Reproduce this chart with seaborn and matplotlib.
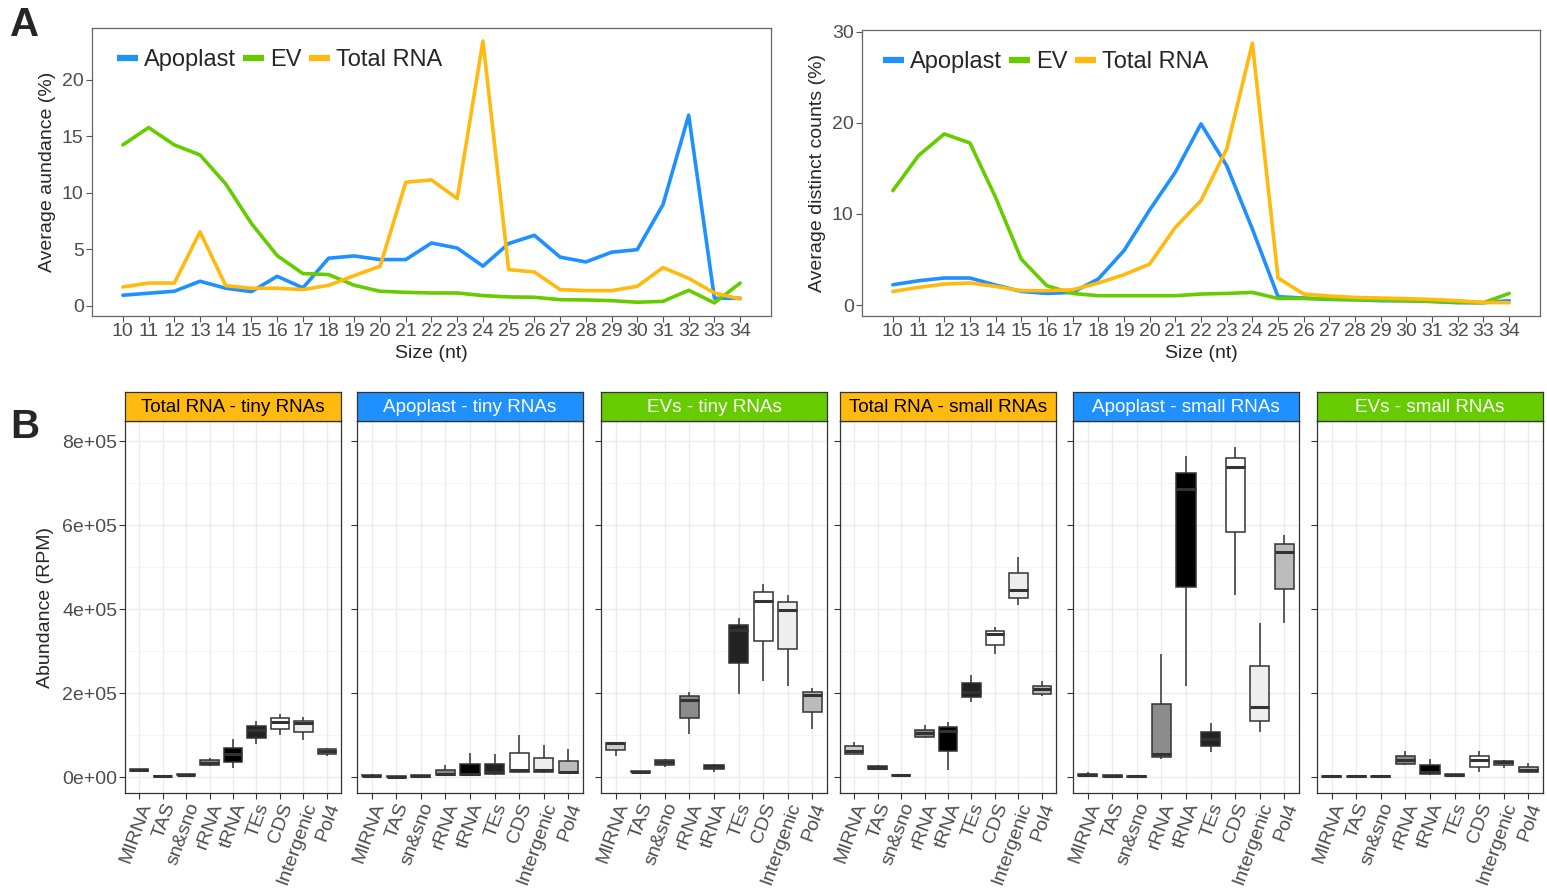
import numpy as np
import pandas as pd
import matplotlib
matplotlib.use('Agg')
import matplotlib.pyplot as plt
import seaborn as sns
from matplotlib.lines import Line2D
from matplotlib.ticker import FixedLocator

######### DATA #########

sizes = list(range(10, 35))

# panel A left - average abundance (%)
abund_apoplast = [0.92, 1.1, 1.27, 2.16, 1.54, 1.24, 2.6, 1.57, 4.2, 4.4, 4.08, 4.08, 5.55,
                  5.1, 3.5, 5.5, 6.23, 4.3, 3.87, 4.73, 4.96, 8.95, 16.87, 0.65, 0.65]
abund_ev = [14.24, 15.78, 14.24, 13.35, 10.78, 7.27, 4.43, 2.84, 2.75, 1.8, 1.27, 1.18, 1.12,
            1.12, 0.89, 0.77, 0.74, 0.53, 0.5, 0.44, 0.3, 0.38, 1.36, 0.24, 2.0]
abund_total = [1.65, 2.0, 2.0, 6.53, 1.77, 1.54, 1.54, 1.42, 1.8, 2.66, 3.49, 10.93, 11.14,
               9.48, 23.45, 3.19, 2.98, 1.42, 1.33, 1.33, 1.71, 3.37, 2.42, 1.12, 0.59]

# panel A right - average distinct counts (%)
dist_apoplast = [2.23, 2.67, 2.97, 2.97, 2.2, 1.5, 1.28, 1.39, 2.86, 5.97, 10.44, 14.58, 19.89,
                 15.31, 8.35, 0.92, 0.77, 0.62, 0.59, 0.48, 0.48, 0.4, 0.26, 0.26, 0.48]
dist_ev = [12.56, 16.41, 18.79, 17.8, 11.83, 5.05, 2.12, 1.28, 1.03, 1.03, 1.03, 1.03, 1.21,
           1.28, 1.39, 0.73, 0.73, 0.66, 0.59, 0.55, 0.48, 0.4, 0.33, 0.26, 1.28]
dist_total = [1.5, 1.94, 2.31, 2.42, 2.05, 1.58, 1.58, 1.68, 2.42, 3.33, 4.5, 8.53, 11.47,
              17.14, 28.75, 2.97, 1.21, 0.99, 0.84, 0.77, 0.7, 0.62, 0.48, 0.29, 0.26]

samples = ['Apoplast', 'EV', 'Total RNA']
sample_colors = ['#1E90FF', '#66CC00', '#FFB90F']

# panel B - box stats in thousands of RPM: [low whisker, q1, median, q3, high whisker]
classes = ['MIRNA', 'TAS', 'sn&sno', 'rRNA', 'tRNA', 'TEs', 'CDS', 'Intergenic', 'Pol4']
class_fill = ['#cccccc', '#333333', '#777777', '#8c8c8c', '#000000', '#222222', '#ffffff', '#eeeeee', '#bbbbbb']

total_tiny = [[14, 15.5, 17, 18, 20], [1, 1.5, 2.5, 3.5, 4], [3.5, 4, 5.5, 6.5, 7],
              [26, 29, 34, 40, 45], [21, 36, 54, 70, 91], [79, 92, 111, 121, 134],
              [99, 115, 132, 140, 150], [89, 107, 128, 134, 142], [51, 55, 63, 67, 70]]
apoplast_tiny = [[1, 1.5, 2.5, 4, 8], [0, 0.5, 1, 1.5, 2], [0, 0.5, 2, 4, 4.5],
                 [3, 4, 8, 16, 28], [4, 5.5, 8, 32, 58], [6, 8, 13, 32, 54],
                 [12, 13, 17, 58, 101], [10, 11, 16, 45, 77], [8, 9, 11, 38, 67]]
evs_tiny = [[51, 65, 80, 81, 81], [10, 11, 13, 14, 15], [25, 29, 37, 41, 43],
            [103, 141, 183, 194, 203], [13, 20, 24, 29, 32], [198, 271, 350, 362, 378],
            [229, 324, 420, 440, 460], [217, 305, 398, 416, 434], [115, 155, 196, 202, 212]]
total_small = [[54, 54, 61, 73, 83], [18, 19, 22, 26, 28], [2, 2.5, 4, 5, 6],
               [93, 96, 105, 112, 124], [17, 61, 109, 120, 130], [179, 190, 203, 223, 242],
               [292, 314, 340, 347, 357], [410, 426, 446, 486, 525], [193, 198, 209, 217, 229]]
apoplast_small = [[2, 3, 5, 7, 12], [0, 0.5, 2, 5, 5.5], [0.5, 0.8, 1.5, 2.2, 2.5],
                  [43, 47, 55, 174, 292], [217, 452, 687, 725, 765], [59, 73, 91, 108, 128],
                  [434, 584, 738, 760, 786], [107, 134, 166, 265, 367], [367, 449, 535, 554, 577]]
evs_small = [[0.5, 0.8, 1.5, 2.2, 2.5], [0.5, 0.8, 1.5, 2.2, 2.5], [0.5, 0.8, 1.5, 2.2, 2.5],
             [28, 32, 41, 51, 61], [4, 7, 13, 28, 43], [1.5, 2, 5, 7, 8],
             [13, 25, 41, 49, 61], [21, 28, 36, 39, 40], [9, 12, 17, 25, 34]]

facet_titles = ['Total RNA - tiny RNAs', 'Apoplast - tiny RNAs', 'EVs - tiny RNAs',
                'Total RNA - small RNAs', 'Apoplast - small RNAs', 'EVs - small RNAs']
facet_stats = [total_tiny, apoplast_tiny, evs_tiny, total_small, apoplast_small, evs_small]
strip_colors = ['#FFB90F', '#1E90FF', '#66CC00', '#FFB90F', '#1E90FF', '#66CC00']
strip_text = ['black', 'white', 'white', 'black', 'white', 'white']

######### STYLE #########

sns.set_theme(style='white')
plt.rcParams['font.family'] = ['Liberation Sans', 'DejaVu Sans']

W, H = 1547, 888
TICK_COL = '#4D4D4D'


def px_axes(fig, left, top, right, bottom):
    return fig.add_axes([left / W, 1 - bottom / H, (right - left) / W, (bottom - top) / H])


fig = plt.figure(figsize=(W / 100, H / 100), dpi=100)

######### PANEL A #########

def line_panel(ax, series, ylabel, ylim, yticks, legend_x):
    rows = []
    for name, vals in zip(samples, series):
        for s, v in zip(sizes, vals):
            rows.append((s, v, name))
    df = pd.DataFrame(rows, columns=['size', 'value', 'sample'])
    sns.lineplot(data=df, x='size', y='value', hue='sample', hue_order=samples,
                 palette=sample_colors, linewidth=2.6, ax=ax, legend=False)
    ax.set_xlim(8.8, 35.2)
    ax.set_ylim(*ylim)
    ax.set_xticks(sizes)
    ax.set_yticks(yticks)
    ax.set_xlabel('Size (nt)', fontsize=14, labelpad=4)
    ax.set_ylabel(ylabel, fontsize=14, labelpad=4)
    ax.tick_params(axis='both', labelsize=14, colors='#555555', labelcolor=TICK_COL,
                   length=4, width=0.8, pad=2, bottom=True, left=True)
    ax.tick_params(axis='x', pad=1)
    for sp in ax.spines.values():
        sp.set_color('#666666')
        sp.set_linewidth(0.9)
    handles = [Line2D([], [], color=c, lw=4.5, solid_capstyle='butt') for c in sample_colors]
    ax.legend(handles, samples, loc='upper left', ncol=3, frameon=False, fontsize=17,
              handlelength=0.9, handletextpad=0.25, columnspacing=0.3,
              bbox_to_anchor=(legend_x, 0.985), borderaxespad=0.3)


ax_a1 = px_axes(fig, 92, 28, 771, 316)
line_panel(ax_a1, [abund_apoplast, abund_ev, abund_total], 'Average aundance (%)',
           (-0.92, 24.6), [0, 5, 10, 15, 20], 0.012)

ax_a2 = px_axes(fig, 862, 30, 1540, 316)
line_panel(ax_a2, [dist_apoplast, dist_ev, dist_total], 'Average distinct counts (%)',
           (-1.2, 30.2), [0, 10, 20, 30], 0.006)

fig.text(10 / W, 1 - 25 / H, 'A', fontsize=29, fontweight='bold', va='center', ha='left')
fig.text(10 / W, 1 - 427 / H, 'B', fontsize=29, fontweight='bold', va='center', ha='left')

######### PANEL B #########

panel_x = [(125, 341), (357, 583), (601, 827), (840, 1056), (1073, 1299), (1317, 1543)]
strip_top, panel_top, panel_bottom = 392, 421, 793
fill_map = dict(zip(classes, class_fill))

for i, (title, stats) in enumerate(zip(facet_titles, facet_stats)):
    left, right = panel_x[i]
    ax = px_axes(fig, left, panel_top, right, panel_bottom)
    rows = []
    for cls, five in zip(classes, stats):
        for v in five:
            rows.append((cls, v * 1000))
    df = pd.DataFrame(rows, columns=['class', 'rpm'])
    sns.boxplot(data=df, x='class', y='rpm', hue='class', order=classes, hue_order=classes,
                palette=fill_map, saturation=1, legend=False, whis=np.inf, width=0.78,
                linecolor='#333333', linewidth=1.1, showcaps=False,
                medianprops={'linewidth': 2.2, 'color': '#333333'}, ax=ax)
    ax.set_xlim(-0.6, 8.6)
    ax.set_ylim(-38000, 848000)
    ax.set_yticks([0, 2e5, 4e5, 6e5, 8e5])
    ax.yaxis.set_minor_locator(FixedLocator([1e5, 3e5, 5e5, 7e5]))
    ax.set_axisbelow(True)
    ax.grid(which='major', color='#EBEBEB', linewidth=1.0)
    ax.grid(which='minor', axis='y', color='#F4F4F4', linewidth=0.6)
    ax.set_xlabel('')
    ax.set_ylabel('')
    ax.set_xticks(range(len(classes)))
    ax.set_xticklabels(classes, rotation=70, ha='right', va='top', rotation_mode='anchor')
    ax.tick_params(axis='both', labelsize=14, colors='#333333', labelcolor=TICK_COL,
                   length=4, width=0.8, pad=1.5, bottom=True, left=True)
    ax.tick_params(which='minor', length=0)
    if i == 0:
        ax.set_yticklabels([format(v, '.0e') for v in [0, 2e5, 4e5, 6e5, 8e5]])
        ax.set_ylabel('Abundance (RPM)', fontsize=14, labelpad=6)
    else:
        ax.tick_params(axis='y', labelleft=False)
    for sp in ax.spines.values():
        sp.set_color('#333333')
        sp.set_linewidth(0.9)

    # facet strip
    sax = px_axes(fig, left, strip_top, right, panel_top)
    sax.set_facecolor(strip_colors[i])
    sax.set_xticks([])
    sax.set_yticks([])
    for sp in sax.spines.values():
        sp.set_color('#333333')
        sp.set_linewidth(0.9)
    sax.text(0.5, 0.45, title, transform=sax.transAxes, ha='center', va='center',
             fontsize=13.6, color=strip_text[i])

fig.savefig('out.png', dpi=100)
